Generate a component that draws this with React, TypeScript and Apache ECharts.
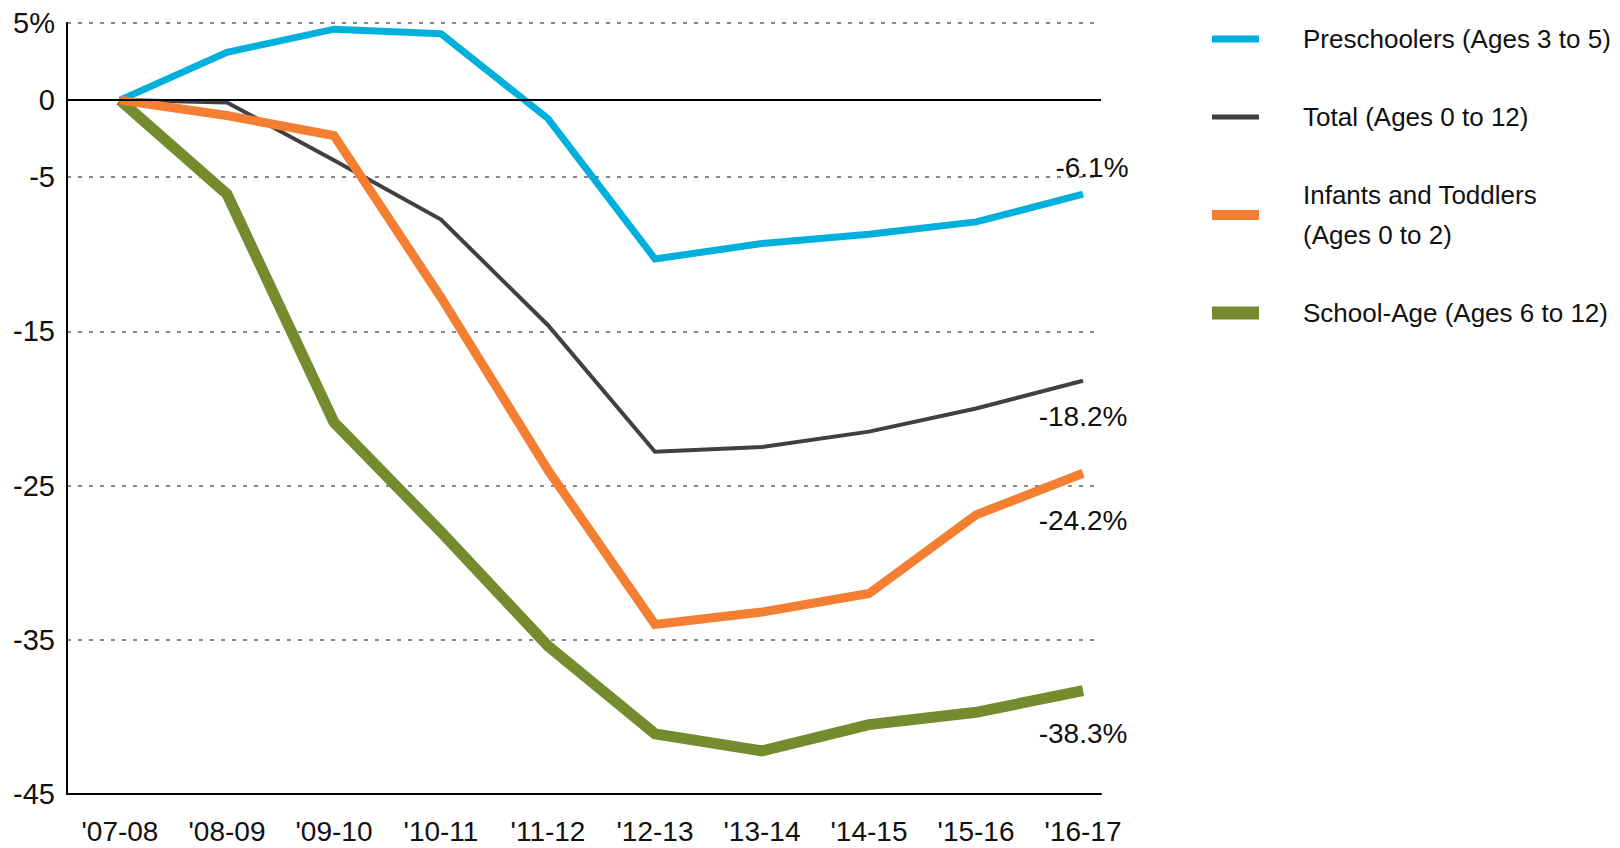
import React, { useEffect, useRef } from "react";
import * as echarts from "echarts";

const categories = ["'07-08", "'08-09", "'09-10", "'10-11", "'11-12", "'12-13", "'13-14", "'14-15", "'15-16", "'16-17"];
const preschoolers = [0, 3.1, 4.6, 4.3, -1.2, -10.3, -9.3, -8.7, -7.9, -6.1];
const total = [0, -0.15, -3.9, -7.75, -14.6, -22.8, -22.5, -21.5, -20.0, -18.2];
const infants = [0, -1.0, -2.3, -12.8, -24.0, -34.0, -33.2, -32.0, -26.9, -24.2];
const schoolAge = [0, -6.1, -20.9, -28.0, -35.4, -41.1, -42.2, -40.5, -39.7, -38.3];
const yTickLabels = [-45, -35, -25, -15, -5, 0, 5];
const endLabels = ["-6.1%", "-18.2%", "-24.2%", "-38.3%"];

const FONT = "'Liberation Sans', Arial, sans-serif";

function buildData(vals: number[], labelText: string, offset: number[]) {
  return vals.map((v, i) => {
    if (i === vals.length - 1) {
      return {
        value: [i, v],
        label: {
          show: true,
          position: "inside",
          offset,
          formatter: labelText,
          fontFamily: FONT,
          fontSize: 28,
          color: "#111",
        },
      };
    }
    return { value: [i, v] };
  });
}

export default function App() {
  const ref = useRef<HTMLDivElement>(null);
  useEffect(() => {
    if (!ref.current) return;
    const chart = echarts.init(ref.current, undefined, { renderer: "svg" });
    const lineSeries = (name: string, color: string, width: number, data: any[]) => ({
      name,
      type: "line",
      data,
      symbol: "circle",
      symbolSize: 0.1,
      showSymbol: true,
      itemStyle: { color },
      lineStyle: { color, width, join: "miter" },
      label: { show: false },
      emphasis: { disabled: true },
    });
    const iconPath = (h: number) => `path://M0,0M47,14M0,${(14 - h) / 2}H47V${(14 + h) / 2}H0Z`;
    chart.setOption({
      animation: false,
      backgroundColor: "#fff",
      grid: { left: 67, right: 519, top: 23, bottom: 54, containLabel: false },
      xAxis: {
        type: "value",
        min: -0.495,
        max: 9.168,
        axisLine: { show: true, onZero: false, lineStyle: { color: "#000", width: 2 } },
        axisTick: { show: false },
        splitLine: { show: false },
        axisLabel: {
          customValues: categories.map((_, i) => i),
          formatter: (v: number) => categories[Math.round(v)] ?? "",
          fontFamily: FONT,
          fontSize: 28,
          color: "#111",
          margin: 23,
        },
      },
      yAxis: {
        type: "value",
        min: -45,
        max: 5,
        interval: 10,
        axisLine: { show: true, onZero: false, lineStyle: { color: "#000", width: 2 } },
        axisTick: { show: false },
        splitLine: { show: true, lineStyle: { color: "#888", width: 2, type: [4, 7] } },
        axisLabel: {
          customValues: yTickLabels,
          formatter: (v: number) => (v === 5 ? "5%" : String(v)),
          fontFamily: FONT,
          fontSize: 29,
          color: "#111",
          margin: 12,
        },
      },
      legend: {
        orient: "vertical",
        left: 1207,
        top: 14,
        itemWidth: 47,
        itemHeight: 14,
        itemGap: 38,
        selectedMode: false,
        textStyle: {
          fontFamily: FONT,
          fontSize: 26,
          lineHeight: 40,
          color: "#111",
          padding: [0, 0, 0, 39],
        },
        data: [
          { name: "Preschoolers (Ages 3 to 5)", icon: iconPath(7) },
          { name: "Total (Ages 0 to 12)", icon: iconPath(5) },
          { name: "Infants and Toddlers\n(Ages 0 to 2)", icon: iconPath(10) },
          { name: "School-Age (Ages 6 to 12)", icon: iconPath(13) },
        ],
      },
      series: [
        lineSeries("School-Age (Ages 6 to 12)", "#758b2e", 11, buildData(schoolAge, endLabels[3], [0, 43])),
        lineSeries("Preschoolers (Ages 3 to 5)", "#00b0dc", 7, buildData(preschoolers, endLabels[0], [9, -27])),
        {
          ...lineSeries("Total (Ages 0 to 12)", "#404040", 4, buildData(total, endLabels[1], [0, 36])),
          markLine: {
            silent: true,
            symbol: "none",
            label: { show: false },
            lineStyle: { color: "#000", width: 2, type: "solid" },
            data: [{ yAxis: 0 }],
          },
        },
        lineSeries("Infants and Toddlers\n(Ages 0 to 2)", "#f47e32", 9, buildData(infants, endLabels[2], [0, 47])),
      ],
    });
    return () => chart.dispose();
  }, []);
  return (
    <div
      ref={ref}
      style={{ position: "fixed", left: 0, top: 0, width: 1620, height: 848, background: "#fff" }}
    />
  );
}
